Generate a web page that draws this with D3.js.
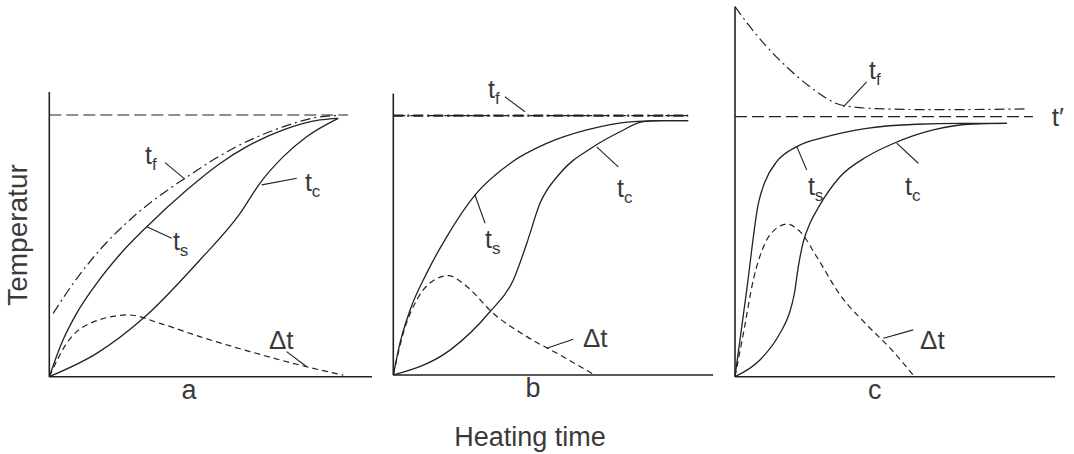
<!DOCTYPE html>
<html>
<head>
<meta charset="utf-8">
<script src="https://cdn.jsdelivr.net/npm/d3@7"></script>
<style>
  body { margin: 0; background: #fff; }
  svg text { font-family: "Liberation Sans", Arial, sans-serif; fill: #3a3a3a; }
</style>
</head>
<body>
<div id="chart"></div>
<script>
// x: heating time in % of the plotted period, y: temperature in % of t'
const panelNames = ['a', 'b', 'c'];

const aTf = [[1.3,24.2],[8,35.7],[16.8,48.4],[28,61.1],[45.2,75.8],[61.4,87.3],[78,95.5],[89.1,99.1],[96.3,99.8]];
const aTs = [[0,0],[4.1,12.8],[9.1,24.2],[15.8,35.7],[23.6,46.8],[32.5,57.3],[45.8,71.3],[56.9,81.5],[65.8,87.9],[78,94.3],[90.2,98.1],[96.3,98.7]];
const aTc = [[0,0],[15.8,8.9],[31.3,22.3],[50.2,44.6],[63.6,62.4],[70.2,73.9],[78,84.1],[85.8,91.7],[96.3,98.7]];
const aDt = [[0,0],[5.8,12.8],[13.6,20.4],[26.3,23.6],[36.9,20.4],[50.2,15.3],[66.9,9.6],[85.8,3.8],[98,0.6]];

const bTf = [[0,100],[98.3,100]];
const bTs = [[0,0],[2.2,12.2],[5.6,25.1],[11.1,39.2],[17.8,53.3],[27.2,69.4],[38.9,81.6],[51.1,89.3],[64.5,94.5],[80,97.7],[90,98.1],[98.3,98.1]];
const bTc = [[0,0],[18.9,9.6],[32.2,24.4],[40,36.6],[44.5,50.8],[48.9,66.2],[55.6,77.8],[66.7,88],[75.6,93.8],[83.3,97.7],[90,98.1],[98.3,98.1]];
const bDt = [[0,0],[3.3,16.1],[7.8,28.9],[12.8,36],[18.3,38.3],[24.5,34.1],[33.3,23.8],[44.5,14.8],[55.6,7.7],[67.2,0]];

const cTf = [[0,142.3],[5,134.6],[10.6,126.9],[17.2,119.2],[25,111.5],[36.1,104.3],[49.4,103],[66.1,102.7],[97.2,103]];
const cTs = [[0,0],[3.9,33.3],[7.8,66.7],[10,75],[13.9,82.7],[20.6,88.5],[30.6,92.3],[43.9,95.5],[60.6,97.1],[75,97.4],[90.6,97.4]];
const cTc = [[0,0],[8.3,6.4],[15,16.7],[18,24],[19.8,32],[21.1,42.3],[22.8,52],[25,59],[28,65.5],[35,76.9],[43.9,84.6],[52.8,89.7],[66.1,94.9],[79.4,97.2],[90.6,97.4]];
const cDt = [[0,0],[2.8,16.7],[6.1,37.2],[10,51.3],[13.9,57.1],[17.4,58.7],[21.7,55.8],[27.2,46.2],[35,31.5],[43.9,20],[51.7,11],[59.4,0.6]];

// reference temperature t' (dashed line) and axis extents, same units
const refLevel = 100;
const refEnd = { a: 99.6, b: 98.2, c: 99.3 };
const yAxisTop = { a: 108.8, b: 108.6, c: 142.3 };
const xAxisEnd = { a: 107.6, b: 106.6, c: 106.7 };

// curve labels: text, subscript, anchor, leader line
const aLabels = [
  { t: 't', s: 'f', at: [31.9, 81.2], leader: [[38.6, 81.8], [45.2, 75.5]] },
  { t: 't', s: 's', at: [41.2, 48.6], leader: [[32.5, 57.3], [40.8, 52.9]] },
  { t: 't', s: 'c', at: [85.2, 70.8], leader: [[70.8, 73.3], [82.5, 75.8]] },
  { t: '\u0394t', s: '', at: [73.2, 10.6], leader: [[79.1, 9.6], [85.8, 3.8]] }
];
const bLabels = [
  { t: 't', s: 'f', at: [31.6, 106.8], leader: [[37.2, 107.3], [43.9, 101.5]] },
  { t: 't', s: 's', at: [30.6, 49], leader: [[27.2, 69.4], [30.6, 58.5]] },
  { t: 't', s: 'c', at: [74.6, 68.6], leader: [[67.8, 88], [75, 80.3]] },
  { t: '\u0394t', s: '', at: [63.2, 10.8], leader: [[51.1, 10.3], [60, 13.8]] }
];
const cLabels = [
  { t: 't', s: 'f', at: [44.7, 114.5], leader: [[36.1, 103.8], [43.9, 113.4]] },
  { t: 't', s: 's', at: [24.3, 69.9], leader: [[20.6, 88.5], [23.9, 79.5]] },
  { t: 't', s: 'c', at: [56.7, 69.9], leader: [[53.9, 89.8], [61.1, 82.1]] },
  { t: '\u0394t', s: '', at: [61.7, 10.7], leader: [[49.5, 14.8], [59.4, 18]] },
  { t: 't\u2032', s: '', at: [105.6, 96.4], leader: null }
];

const xTitle = 'Heating time';
const yTitle = 'Temperatur';

const series = {
  a: { tf: aTf, ts: aTs, tc: aTc, dt: aDt, labels: aLabels },
  b: { tf: bTf, ts: bTs, tc: bTc, dt: bDt, labels: bLabels },
  c: { tf: cTf, ts: cTs, tc: cTc, dt: cDt, labels: cLabels }
};

// pixel frame of each panel (origin and t' level)
const frames = {
  a: { left: 49.3, bottom: 376.7, top: 115 },
  b: { left: 393.3, bottom: 375, top: 115.7 },
  c: { left: 735, bottom: 376.7, top: 116.7 }
};

const width = 1074, height = 454;
const ink = '#222';

const svg = d3.select('#chart').append('svg')
  .attr('width', width)
  .attr('height', height);

panelNames.forEach(name => {
  const f = frames[name];
  const d = series[name];
  const x = d3.scaleLinear().domain([0, 100]).range([f.left, f.left + 300]);
  const y = d3.scaleLinear().domain([0, refLevel]).range([f.bottom, f.top]);
  const g = svg.append('g').attr('class', 'panel-' + name);

  const straight = d3.line().x(p => x(p[0])).y(p => y(p[1]));
  const smooth = d3.line().x(p => x(p[0])).y(p => y(p[1])).curve(d3.curveMonotoneX);

  // axes: plain lines, no ticks
  g.append('path').attr('d', straight([[0, 0], [0, yAxisTop[name]]]))
    .attr('fill', 'none').attr('stroke', ink).attr('stroke-width', 1.6);
  g.append('path').attr('d', straight([[0, 0], [xAxisEnd[name], 0]]))
    .attr('fill', 'none').attr('stroke', ink).attr('stroke-width', 1.6);

  // t' reference
  g.append('path').attr('d', straight([[0, refLevel], [refEnd[name], refLevel]]))
    .attr('fill', 'none').attr('stroke', ink).attr('stroke-width', 1.2)
    .attr('stroke-dasharray', '12,5');

  g.append('path').attr('d', smooth(d.tf))
    .attr('fill', 'none').attr('stroke', ink)
    .attr('stroke-width', name === 'b' ? 2.2 : 1.2)
    .attr('stroke-dasharray', '10,4,2,4');
  g.append('path').attr('d', smooth(d.ts))
    .attr('fill', 'none').attr('stroke', ink).attr('stroke-width', 1.3);
  g.append('path').attr('d', smooth(d.tc))
    .attr('fill', 'none').attr('stroke', ink).attr('stroke-width', 1.3);
  g.append('path').attr('d', smooth(d.dt))
    .attr('fill', 'none').attr('stroke', ink).attr('stroke-width', 1.2)
    .attr('stroke-dasharray', '6,4');

  d.labels.forEach(l => {
    if (l.leader) {
      g.append('path').attr('d', straight(l.leader))
        .attr('fill', 'none').attr('stroke', ink).attr('stroke-width', 1.1);
    }
    const txt = g.append('text')
      .attr('x', x(l.at[0]))
      .attr('y', y(l.at[1]))
      .attr('font-size', l.t === 't' ? 25 : 26)
      .text(l.t);
    if (l.s) {
      txt.append('tspan').attr('dy', 6).attr('font-size', 17).text(l.s);
    }
  });

  // panel letter under the axis
  g.append('text')
    .attr('x', x(46.6))
    .attr('y', f.bottom + 22)
    .attr('text-anchor', 'middle')
    .attr('font-size', 27)
    .text(name);
});

svg.append('text')
  .attr('x', 530)
  .attr('y', 446)
  .attr('text-anchor', 'middle')
  .attr('font-size', 27)
  .text(xTitle);

svg.append('text')
  .attr('transform', 'translate(27,235) rotate(-90)')
  .attr('text-anchor', 'middle')
  .attr('font-size', 28)
  .text(yTitle);
</script>
</body>
</html>
